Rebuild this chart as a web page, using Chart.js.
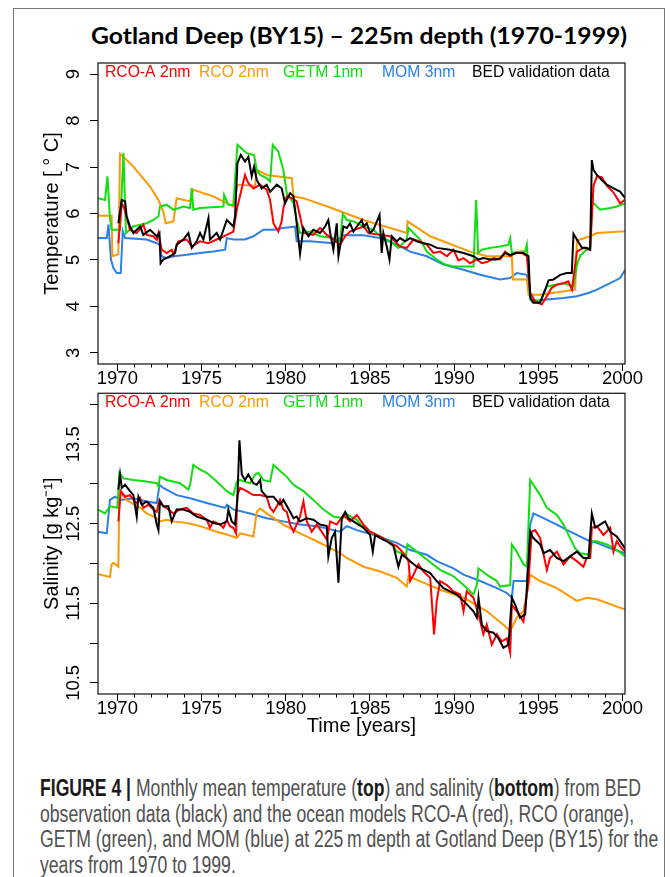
<!DOCTYPE html>
<html>
<head>
<meta charset="utf-8">
<script src="https://cdn.jsdelivr.net/npm/chart.js@4.4.1/dist/chart.umd.min.js"></script>
<style>
  html, body { margin: 0; padding: 0; background: #fff; }
  body { width: 670px; height: 877px; position: relative; overflow: hidden; }
  #frame { position: absolute; left: 13px; top: 8px; width: 650px; height: 900px; border: 1.5px solid #777; }
  #title { position: absolute; left: 91px; top: 24px; font: 700 23px Lato, sans-serif; line-height: 23px;
           white-space: nowrap; transform-origin: 0 0; color: #000; }
  canvas { position: absolute; left: 0; }
  #cTemp { top: 50px; }
  #cSal { top: 380px; }
  #caption { position: absolute; left: 40px; top: 776px; font: 23px "Liberation Sans", Arial, sans-serif;
             line-height: 25.7px; color: #505050; }
  #caption div { white-space: nowrap; width: max-content; transform-origin: 0 0; }
  #caption b { color: #1a1a1a; }
</style>
</head>
<body>
<div id="frame"></div>
<div id="title">Gotland Deep (BY15) – 225m depth (1970-1999)</div>
<canvas id="cTemp" width="670" height="340"></canvas>
<canvas id="cSal" width="670" height="364"></canvas>
<div id="caption">
  <div><b>FIGURE 4 |</b> Monthly mean temperature (<b>top</b>) and salinity (<b>bottom</b>) from BED</div>
  <div>observation data (black) and the ocean models RCO-A (red), RCO (orange),</div>
  <div>GETM (green), and MOM (blue) at 225&#8201;m depth at Gotland Deep (BY15) for the</div>
  <div>years from 1970 to 1999.</div>
</div>
<script>
/* =========================
   DATA
========================= */
const legendNames = ["RCO-A 2nm", "RCO 2nm", "GETM 1nm", "MOM 3nm", "BED validation data"];
const seriesColors = ["#ff0000", "#ff9900", "#11dd11", "#2b7fe8", "#000000"];
const tempTickLabels = [3, 4, 5, 6, 7, 8, 9];
const salTickLabels = [10.5, 11.5, 12.5, 13.5];

// temperature [°C], pairs of [year, value]
const tempRcoa = [[1970.06,5.36],[1970.26,6.22],[1970.40,6.12],[1970.75,5.65],[1971.15,5.58],[1971.54,5.76],[1971.74,5.54],[1972.14,5.51],[1972.34,5.43],[1972.44,5.58],[1972.63,5.22],[1972.93,5.15],[1973.23,5.22],[1973.33,5.11],[1973.62,5.40],[1974.12,5.44],[1974.42,5.29],[1974.91,5.40],[1975.41,5.36],[1975.90,5.44],[1976.50,5.54],[1976.89,5.61],[1977.09,6.08],[1977.58,6.83],[1977.78,6.65],[1978.08,6.54],[1978.48,6.62],[1978.87,6.51],[1979.07,6.29],[1979.27,5.79],[1979.56,5.61],[1979.76,5.83],[1979.86,6.12],[1980.06,6.37],[1980.36,6.33],[1980.65,6.26],[1980.85,5.94],[1981.05,5.58],[1981.64,5.54],[1982.04,5.69],[1982.44,5.54],[1982.83,5.44],[1983.23,5.33],[1983.53,5.51],[1983.82,5.61],[1984.62,5.72],[1984.91,5.58],[1985.61,5.54],[1986.20,5.51],[1986.79,5.29],[1987.19,5.26],[1987.59,5.44],[1987.98,5.40],[1988.38,5.33],[1988.77,5.15],[1989.17,5.18],[1989.57,5.08],[1989.96,5.22],[1990.26,4.99],[1990.56,5.04],[1990.95,4.93],[1991.35,5.01],[1991.65,4.93],[1992.04,4.97],[1992.34,5.04],[1992.73,5.01],[1993.03,5.18],[1993.33,5.08],[1993.63,5.15],[1994.02,5.15],[1994.32,5.08],[1994.52,4.29],[1994.81,4.11],[1995.21,4.04],[1995.51,4.22],[1995.80,4.40],[1996.10,4.47],[1996.50,4.50],[1996.79,4.54],[1997.00,4.36],[1997.29,5.18],[1997.68,5.26],[1998.08,5.22],[1998.28,6.60],[1998.48,6.80],[1998.77,6.78],[1999.07,6.60],[1999.47,6.45],[1999.86,6.22],[2000.16,6.30]];
const tempRco = [[1968.83,5.95],[1969.66,5.95],[1969.70,5.08],[1970.06,5.12],[1970.16,7.28],[1970.55,7.15],[1970.95,7.01],[1971.94,6.58],[1972.44,6.29],[1972.73,6.04],[1972.87,5.79],[1973.33,5.83],[1973.52,6.33],[1974.32,6.26],[1974.51,6.51],[1975.70,6.37],[1976.89,6.15],[1977.13,6.62],[1978.18,6.60],[1978.28,6.94],[1978.87,6.83],[1980.36,6.76],[1980.46,6.37],[1981.05,6.33],[1982.64,6.13],[1984.62,5.86],[1987.19,5.58],[1987.23,5.83],[1988.58,5.51],[1990.95,5.18],[1991.94,5.08],[1993.43,5.08],[1993.49,4.58],[1994.32,4.58],[1994.42,4.25],[1995.11,4.25],[1997.19,4.36],[1997.29,5.42],[1998.08,5.51],[1998.48,5.58],[2000.16,5.62]];
const tempGetm = [[1968.83,6.33],[1969.27,6.29],[1969.41,6.80],[1969.56,5.90],[1969.66,5.65],[1970.16,5.65],[1970.36,7.30],[1970.51,5.58],[1970.95,5.72],[1971.35,5.76],[1971.74,5.79],[1972.14,5.86],[1972.44,5.94],[1972.53,6.15],[1972.93,6.19],[1973.33,6.08],[1973.92,6.15],[1974.32,6.12],[1974.42,6.55],[1974.51,6.08],[1974.91,6.12],[1976.30,6.15],[1976.34,6.40],[1976.59,6.19],[1976.89,6.19],[1977.13,7.48],[1977.68,7.30],[1978.12,7.26],[1978.28,6.94],[1978.48,6.83],[1978.87,6.76],[1979.07,6.69],[1979.23,7.48],[1979.56,7.33],[1979.86,6.94],[1980.06,6.44],[1980.46,6.22],[1980.65,5.86],[1980.85,5.58],[1981.45,5.61],[1982.04,5.51],[1982.83,5.47],[1983.23,5.40],[1983.39,5.99],[1983.63,5.86],[1984.02,5.83],[1984.62,5.72],[1985.21,5.65],[1985.61,5.51],[1986.20,5.40],[1986.69,5.26],[1987.19,5.44],[1987.29,5.69],[1987.59,5.58],[1987.98,5.44],[1988.38,5.18],[1988.97,5.01],[1989.47,4.90],[1989.96,4.86],[1991.15,4.86],[1991.31,6.29],[1991.43,5.15],[1991.65,5.22],[1992.14,5.26],[1992.73,5.29],[1993.23,5.33],[1993.33,5.47],[1993.43,5.15],[1993.92,5.18],[1994.22,5.18],[1994.32,5.33],[1994.52,4.15],[1995.11,4.11],[1995.51,4.43],[1996.50,4.50],[1997.09,4.43],[1997.30,4.90],[1997.50,5.10],[1997.88,5.22],[1998.08,5.25],[1998.20,6.25],[1998.67,6.08],[1999.27,6.12],[1999.66,6.15],[2000.16,6.22]];
const tempMom = [[1968.83,5.47],[1969.37,5.47],[1969.47,5.76],[1969.62,5.01],[1969.76,4.83],[1969.96,4.72],[1970.20,4.72],[1970.32,5.62],[1970.46,5.47],[1971.74,5.44],[1972.34,5.36],[1972.50,5.33],[1972.63,5.08],[1972.93,5.04],[1973.33,5.08],[1974.12,5.11],[1974.91,5.15],[1975.70,5.18],[1976.40,5.22],[1976.50,5.47],[1976.89,5.44],[1977.58,5.44],[1978.08,5.51],[1978.67,5.65],[1979.27,5.65],[1979.86,5.69],[1980.55,5.72],[1980.65,5.40],[1981.45,5.40],[1982.83,5.36],[1983.43,5.53],[1984.62,5.53],[1985.61,5.47],[1986.60,5.33],[1987.39,5.18],[1988.38,5.08],[1989.37,4.90],[1990.56,4.79],[1991.55,4.68],[1992.73,4.58],[1993.33,4.61],[1993.72,4.72],[1994.32,4.68],[1994.61,4.11],[1995.51,4.15],[1996.50,4.18],[1997.29,4.22],[1997.98,4.29],[1998.48,4.36],[1999.27,4.50],[1999.86,4.61],[2000.16,4.79]];
const tempBed = [[1970.06,5.79],[1970.26,6.29],[1970.46,6.26],[1970.55,5.94],[1970.75,5.72],[1970.95,5.58],[1971.35,5.72],[1971.54,5.54],[1971.94,5.65],[1972.14,5.58],[1972.34,5.51],[1972.50,5.58],[1972.57,4.93],[1972.73,5.01],[1973.13,5.08],[1973.43,5.15],[1973.52,5.33],[1973.92,5.44],[1974.22,5.58],[1974.42,5.26],[1974.71,5.40],[1974.91,5.58],[1975.11,5.44],[1975.41,5.90],[1975.50,5.44],[1975.90,5.58],[1976.10,5.44],[1976.50,5.86],[1976.89,5.72],[1976.99,5.94],[1977.13,7.08],[1977.33,7.26],[1977.58,7.12],[1977.78,7.22],[1977.98,6.80],[1978.12,7.01],[1978.28,6.72],[1978.57,6.54],[1978.87,6.62],[1979.07,6.47],[1979.47,6.62],[1979.76,6.54],[1979.96,6.22],[1980.26,6.44],[1980.46,6.37],[1980.65,5.79],[1980.85,5.13],[1981.05,5.69],[1981.35,5.51],[1981.64,5.65],[1982.04,5.58],[1982.34,5.72],[1982.53,5.86],[1982.64,5.58],[1982.83,5.22],[1983.03,5.79],[1983.13,5.08],[1983.43,5.72],[1983.63,5.69],[1983.82,5.79],[1984.02,5.61],[1984.22,5.72],[1984.52,5.86],[1984.62,5.72],[1984.81,5.79],[1985.01,5.58],[1985.21,5.65],[1985.57,5.97],[1985.70,5.15],[1985.80,5.58],[1986.00,5.29],[1986.16,5.01],[1986.30,5.51],[1986.60,5.40],[1986.79,5.47],[1987.09,5.40],[1987.39,5.47],[1987.78,5.40],[1988.18,5.36],[1988.58,5.33],[1988.97,5.26],[1989.76,5.22],[1990.56,5.15],[1991.15,5.08],[1991.45,5.01],[1991.74,5.04],[1992.14,5.01],[1992.54,5.01],[1992.73,5.04],[1993.03,5.15],[1993.33,5.11],[1993.72,5.15],[1994.12,5.15],[1994.42,5.08],[1994.52,4.18],[1994.71,4.08],[1995.11,4.08],[1995.41,4.36],[1995.61,4.56],[1995.90,4.58],[1996.30,4.68],[1996.69,4.72],[1996.99,4.72],[1997.09,5.56],[1997.29,5.44],[1997.59,5.26],[1997.88,5.26],[1998.08,5.22],[1998.18,7.15],[1998.28,6.94],[1998.48,6.83],[1998.77,6.72],[1999.07,6.62],[1999.47,6.54],[1999.86,6.47],[2000.16,6.33]];

// salinity [g/kg], pairs of [year, value]
const salRcoa = [[1970.06,12.53],[1970.20,12.91],[1970.46,12.84],[1970.75,12.86],[1970.95,12.80],[1971.15,12.76],[1971.35,12.82],[1971.54,12.70],[1971.84,12.74],[1972.14,12.68],[1972.34,12.65],[1972.50,12.80],[1972.73,12.72],[1973.03,12.68],[1973.33,12.63],[1973.72,12.68],[1974.12,12.70],[1974.51,12.63],[1974.91,12.61],[1975.31,12.55],[1975.50,12.45],[1975.70,12.53],[1976.10,12.49],[1976.30,12.45],[1976.50,12.55],[1976.69,12.47],[1976.89,12.45],[1977.05,12.38],[1977.13,12.86],[1977.29,12.95],[1977.68,12.91],[1978.08,12.86],[1978.48,12.86],[1978.87,12.84],[1979.07,12.70],[1979.27,12.65],[1979.47,12.72],[1979.66,12.80],[1979.86,12.68],[1980.06,12.65],[1980.26,12.49],[1980.46,12.40],[1980.65,12.49],[1980.85,12.59],[1981.05,12.78],[1981.25,12.53],[1981.54,12.40],[1981.84,12.49],[1982.14,12.40],[1982.44,12.30],[1982.64,12.53],[1983.03,12.49],[1983.43,12.61],[1983.82,12.53],[1984.22,12.61],[1984.62,12.49],[1985.01,12.40],[1985.61,12.34],[1986.20,12.26],[1986.60,12.22],[1986.99,12.13],[1987.29,12.03],[1987.39,11.78],[1987.59,11.86],[1987.88,11.99],[1988.18,11.90],[1988.58,11.82],[1988.81,11.11],[1988.97,11.53],[1989.17,11.78],[1989.57,11.73],[1989.96,11.65],[1990.36,11.61],[1990.56,11.40],[1990.75,11.65],[1991.15,11.57],[1991.45,11.36],[1991.74,11.11],[1991.94,11.23],[1992.24,10.98],[1992.54,11.11],[1992.83,11.02],[1993.13,11.06],[1993.33,10.88],[1993.43,11.48],[1993.72,11.40],[1994.12,11.27],[1994.42,11.78],[1994.61,12.40],[1994.81,12.42],[1995.11,12.32],[1995.51,11.92],[1995.70,12.07],[1996.10,12.15],[1996.50,11.99],[1996.89,12.09],[1997.29,12.03],[1997.68,11.96],[1997.88,12.07],[1998.08,12.07],[1998.18,12.45],[1998.48,12.47],[1998.87,12.36],[1999.27,12.45],[1999.47,12.15],[1999.66,12.28],[1999.96,12.19],[2000.16,12.15]];
const salRco = [[1968.83,11.87],[1969.56,11.83],[1969.66,11.99],[1969.76,12.01],[1970.06,11.96],[1970.12,12.91],[1970.55,12.80],[1971.35,12.70],[1971.74,12.63],[1972.34,12.57],[1972.53,12.53],[1972.93,12.55],[1973.33,12.53],[1974.12,12.51],[1974.91,12.47],[1975.90,12.40],[1976.89,12.34],[1977.09,12.32],[1977.29,12.38],[1978.08,12.34],[1978.28,12.65],[1978.48,12.69],[1978.87,12.63],[1979.86,12.49],[1980.85,12.38],[1981.84,12.28],[1983.23,12.13],[1983.63,12.07],[1984.62,11.96],[1985.61,11.90],[1986.60,11.82],[1987.19,11.71],[1987.29,11.84],[1988.18,11.76],[1989.17,11.67],[1990.56,11.57],[1991.94,11.40],[1992.93,11.23],[1993.33,11.15],[1993.72,11.32],[1994.12,11.40],[1994.52,11.86],[1995.11,11.78],[1996.10,11.69],[1997.29,11.53],[1997.88,11.57],[1998.48,11.55],[2000.16,11.42]];
const salGetm = [[1968.83,12.68],[1969.27,12.63],[1969.56,12.72],[1970.00,12.70],[1970.12,13.14],[1970.36,13.07],[1970.95,13.05],[1971.74,13.03],[1972.34,13.01],[1972.44,12.97],[1972.53,13.09],[1972.93,13.05],[1973.72,13.01],[1974.22,12.93],[1974.32,12.99],[1974.51,13.24],[1974.91,13.18],[1975.31,13.14],[1975.90,13.03],[1976.50,12.91],[1976.89,12.86],[1977.09,13.03],[1977.29,13.05],[1977.88,13.01],[1978.18,13.12],[1978.38,13.14],[1978.67,13.05],[1979.07,13.03],[1979.27,13.24],[1979.47,13.20],[1980.06,13.09],[1980.46,12.99],[1981.05,12.91],[1981.64,12.80],[1982.24,12.68],[1982.83,12.59],[1983.43,12.57],[1983.53,12.63],[1984.22,12.55],[1984.62,12.45],[1985.61,12.32],[1986.20,12.28],[1986.60,12.15],[1987.15,12.11],[1987.23,12.24],[1987.78,12.15],[1988.38,12.05],[1989.17,11.92],[1989.96,11.84],[1990.56,11.73],[1991.15,11.61],[1991.35,11.73],[1991.45,11.94],[1991.94,11.86],[1992.54,11.78],[1992.73,11.71],[1993.33,11.73],[1993.43,12.24],[1993.72,12.15],[1994.12,11.99],[1994.32,11.96],[1994.52,13.05],[1995.11,12.86],[1995.51,12.70],[1996.10,12.61],[1996.50,12.49],[1996.89,12.32],[1997.19,12.19],[1997.49,12.13],[1998.08,12.11],[1998.18,12.28],[1998.48,12.28],[1999.07,12.24],[1999.66,12.17],[2000.16,12.09]];
const salMom = [[1968.83,12.40],[1969.37,12.38],[1969.56,12.80],[1969.86,12.84],[1970.16,12.80],[1970.95,12.82],[1971.74,12.78],[1972.34,12.76],[1972.50,12.99],[1972.73,12.95],[1973.52,12.86],[1974.32,12.82],[1975.31,12.76],[1976.40,12.70],[1976.50,12.74],[1976.89,12.68],[1977.88,12.63],[1978.87,12.57],[1979.86,12.53],[1980.85,12.49],[1981.84,12.47],[1983.23,12.40],[1983.63,12.47],[1984.22,12.42],[1985.21,12.36],[1986.60,12.26],[1987.39,12.17],[1988.38,12.11],[1988.97,12.03],[1989.96,11.94],[1990.56,11.86],[1991.55,11.78],[1992.54,11.69],[1993.13,11.63],[1993.43,11.57],[1993.53,11.78],[1994.32,11.78],[1994.52,12.49],[1994.71,12.63],[1995.31,12.57],[1996.10,12.49],[1996.89,12.40],[1997.68,12.32],[1998.08,12.28],[1998.48,12.26],[1999.27,12.19],[2000.16,12.13]];
const salBed = [[1970.06,12.93],[1970.16,13.12],[1970.26,12.95],[1970.46,12.99],[1970.75,12.91],[1970.95,12.86],[1971.15,12.59],[1971.25,12.84],[1971.45,12.74],[1971.74,12.78],[1972.14,12.70],[1972.34,12.49],[1972.44,12.42],[1972.53,12.78],[1972.73,12.72],[1973.03,12.72],[1973.23,12.53],[1973.52,12.68],[1973.92,12.68],[1974.32,12.65],[1974.71,12.59],[1975.31,12.55],[1975.70,12.51],[1976.10,12.49],[1976.50,12.53],[1976.59,12.68],[1976.79,12.53],[1976.99,12.49],[1977.13,12.82],[1977.25,13.55],[1977.39,13.12],[1977.58,13.05],[1977.78,13.12],[1978.08,13.01],[1978.28,12.99],[1978.48,13.05],[1978.57,12.91],[1978.87,12.84],[1979.27,12.84],[1979.66,12.74],[1979.86,12.80],[1980.26,12.65],[1980.46,12.57],[1980.65,12.59],[1980.85,12.53],[1981.25,12.57],[1981.64,12.55],[1982.04,12.49],[1982.44,12.47],[1982.53,12.09],[1982.73,12.32],[1982.93,12.40],[1983.13,11.76],[1983.33,12.57],[1983.53,12.65],[1983.72,12.57],[1984.02,12.53],[1984.32,12.49],[1984.62,12.45],[1985.01,12.36],[1985.17,12.15],[1985.31,12.36],[1985.61,12.32],[1986.00,12.28],[1986.40,12.22],[1986.69,11.96],[1986.89,12.11],[1987.19,12.07],[1987.39,12.03],[1987.78,11.96],[1988.18,11.92],[1988.58,11.88],[1988.97,11.78],[1989.37,11.69],[1989.76,11.65],[1990.16,11.61],[1990.56,11.53],[1991.15,11.40],[1991.35,11.32],[1991.45,11.57],[1991.65,11.23],[1991.94,11.15],[1992.34,11.13],[1992.63,11.06],[1992.93,10.94],[1993.23,10.98],[1993.43,11.57],[1993.63,11.48],[1993.92,11.32],[1994.22,11.36],[1994.42,12.03],[1994.52,12.40],[1994.71,12.32],[1995.11,12.24],[1995.31,12.13],[1995.70,12.17],[1996.10,12.07],[1996.50,12.03],[1996.89,12.09],[1997.29,12.15],[1997.68,12.07],[1997.98,12.07],[1998.18,12.63],[1998.38,12.45],[1998.67,12.49],[1998.97,12.53],[1999.27,12.40],[1999.66,12.34],[2000.16,12.19]];

/* =========================
   STYLE
========================= */
const FONT = "'Liberation Sans', Arial, Helvetica, sans-serif";
const legendOffsets = [7, 101, 185, 284, 374];
const xMin = 1968.85, xMax = 2000.15;

function toPoints(arr) {
    return arr.map(p => ({ x: p[0], y: p[1] }));
}

function buildSets(bed, rcoa, rco, getm, mom) {
    // first dataset ends up on top
    const rows = [[bed, 4], [rcoa, 0], [getm, 2], [rco, 1], [mom, 3]];
    return rows.map(([arr, i]) => ({
        label: legendNames[i],
        data: toPoints(arr),
        borderColor: seriesColors[i],
        borderWidth: 2,
        pointRadius: 0,
        tension: 0,
        fill: false
    }));
}

/* =========================
   BOX, LEGEND, ROTATED Y LABELS
========================= */
const panelDecor = {
    id: "panelDecor",
    afterDraw(chart, args, opts) {
        const { ctx, chartArea: a } = chart;
        const ys = chart.scales.y;
        ctx.save();
        ctx.strokeStyle = "#222";
        ctx.lineWidth = 1.3;
        ctx.strokeRect(a.left, a.top, a.right - a.left, a.bottom - a.top);

        ctx.fillStyle = "#000";
        ctx.font = "18.5px " + FONT;
        ctx.textAlign = "center";
        ctx.textBaseline = "middle";
        opts.yLabels.forEach(v => {
            ctx.save();
            ctx.translate(a.left - 24, ys.getPixelForValue(v));
            ctx.rotate(-Math.PI / 2);
            ctx.fillText(String(v), 0, 0);
            ctx.restore();
        });

        ctx.font = "15.7px " + FONT;
        ctx.textAlign = "left";
        legendNames.forEach((name, i) => {
            ctx.fillStyle = seriesColors[i];
            ctx.fillText(name, a.left + legendOffsets[i], a.top + 9.5);
        });
        ctx.restore();
    }
};

function keepYears(s) {
    s.ticks = s.ticks.filter(t => t.value >= 1970 && t.value <= 2000);
}

function panel(id, sets, yMin, yMax, yStep, yTitle, yLabels, xTitle, xHeight, padTop) {
    return new Chart(document.getElementById(id), {
        type: "line",
        data: { datasets: sets },
        plugins: [panelDecor],
        options: {
            responsive: false,
            animation: false,
            layout: { padding: { left: 0, right: 45, top: padTop, bottom: 0 } },
            plugins: {
                legend: { display: false },
                tooltip: { enabled: false },
                panelDecor: { yLabels: yLabels }
            },
            scales: {
                x: {
                    type: "linear", position: "bottom", weight: 1,
                    min: xMin, max: xMax,
                    afterBuildTicks: keepYears,
                    afterFit: s => { s.height = xHeight; },
                    border: { display: false },
                    grid: { drawOnChartArea: false, drawTicks: true, tickLength: 3.5, tickColor: "#000", tickWidth: 1 },
                    ticks: {
                        stepSize: 1, includeBounds: false, autoSkip: false, maxRotation: 0, minRotation: 0,
                        padding: 0, color: "#000", font: { family: FONT, size: 18.5 },
                        callback: v => (v % 5 === 0 ? String(v) : "")
                    },
                    title: {
                        display: !!xTitle, text: xTitle || "", color: "#000",
                        font: { family: FONT, size: 20 }, padding: { top: 0, bottom: 5.3 }
                    }
                },
                xMajor: {
                    type: "linear", position: "bottom", weight: 0,
                    min: xMin, max: xMax,
                    afterBuildTicks: keepYears,
                    afterFit: s => { s.height = 0; },
                    border: { display: false },
                    grid: { drawOnChartArea: false, tickLength: 7, tickColor: "#000", tickWidth: 1 },
                    ticks: { stepSize: 5, includeBounds: false, display: false }
                },
                y: {
                    type: "linear", position: "left",
                    min: yMin, max: yMax,
                    afterFit: s => { s.width = 98; },
                    border: { display: false },
                    grid: { drawOnChartArea: false, tickLength: 8, tickColor: "#000", tickWidth: 1 },
                    ticks: { stepSize: yStep, includeBounds: false, display: false },
                    title: {
                        display: true, text: yTitle, color: "#000",
                        font: { family: FONT, size: 20 }, padding: { top: 40, bottom: 0 }
                    }
                }
            }
        }
    });
}

/* =========================
   TEMPERATURE
========================= */
panel("cTemp", buildSets(tempBed, tempRcoa, tempRco, tempGetm, tempMom),
      2.76, 9.24, 1, "Temperature [ ° C]", tempTickLabels, null, 26, 13);

/* =========================
   SALINITY
========================= */
panel("cSal", buildSets(salBed, salRcoa, salRco, salGetm, salMom),
      10.36, 14.14, 0.5, "Salinity [g kg⁻¹]", salTickLabels, "Time [years]", 50, 13.3);

/* =========================
   TITLE AND CAPTION WIDTHS
========================= */
const title = document.getElementById("title");
title.style.transform = "scaleX(" + (536 / title.offsetWidth) + ")";
const capLines = document.querySelectorAll("#caption div");
const capScale = 601 / capLines[0].offsetWidth;
capLines.forEach(d => { d.style.transform = "scaleX(" + capScale + ")"; });
</script>
</body>
</html>
